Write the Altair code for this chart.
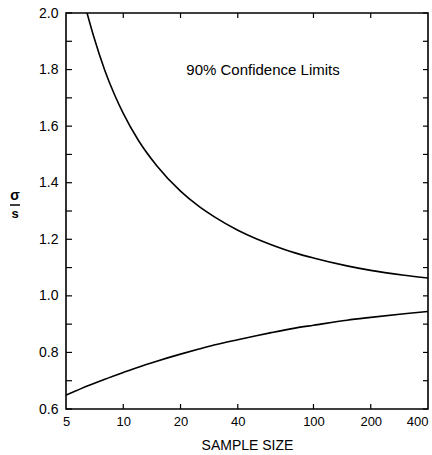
import altair as alt
import pandas as pd

# Values
upper_n = [6.45, 7, 8, 9, 10, 12, 15, 20, 25, 30, 40, 50, 60, 80, 100, 150, 200, 300, 400]
upper_v = [2.0, 1.916, 1.797, 1.711, 1.645, 1.550, 1.460, 1.370, 1.316, 1.280, 1.232, 1.202,
           1.181, 1.152, 1.134, 1.106, 1.090, 1.073, 1.063]
lower_n = [5, 6, 7, 8, 10, 12, 15, 20, 25, 30, 40, 50, 60, 80, 100, 150, 200, 300, 400]
lower_v = [0.649, 0.672, 0.690, 0.705, 0.729, 0.748, 0.769, 0.794, 0.812, 0.826, 0.845, 0.859,
           0.870, 0.886, 0.896, 0.914, 0.924, 0.937, 0.945]
x_ticks = [5, 10, 20, 40, 100, 200, 400]
x_inner_ticks = [10, 20, 40, 100, 200]
y_ticks = [0.6, 0.8, 1.0, 1.2, 1.4, 1.6, 1.8, 2.0]
y_minor = [0.6, 0.7, 0.8, 0.9, 1.0, 1.1, 1.2, 1.3, 1.4, 1.5, 1.6, 1.7, 1.8, 1.9, 2.0]
title_text = "90% Confidence Limits"

W, H = 362, 396
FONT = "Liberation Sans"

curves = pd.DataFrame(
    [{"n": a, "v": b, "s": "upper"} for a, b in zip(upper_n, upper_v)]
    + [{"n": a, "v": b, "s": "lower"} for a, b in zip(lower_n, lower_v)]
)

xs = alt.Scale(type="log", domain=[5, 400], nice=False)
ys = alt.Scale(domain=[0.6, 2.0], nice=False, zero=False)

x_axis = alt.Axis(values=x_ticks, tickSize=0, domain=False, grid=False, labelPadding=6,
                  labelFontSize=13, labelFont=FONT, labelColor="black", format="d",
                  labelAlign=alt.ExprRef(expr="datum.value >= 400 ? 'right' : 'center'"),
                  title="SAMPLE SIZE", titleFont=FONT, titleFontSize=14, titleFontWeight="normal",
                  titleColor="black", titlePadding=10, labelFlush=False)
y_axis = alt.Axis(values=y_ticks, tickSize=0, domain=False, grid=False, labelPadding=8,
                  format=".1f", labelFontSize=14, labelFont=FONT, labelColor="black", title=None)

lines = alt.Chart(curves).mark_line(color="black", strokeWidth=1.6, interpolate="monotone", clip=True).encode(
    x=alt.X("n:Q", scale=xs, axis=x_axis),
    y=alt.Y("v:Q", scale=ys, axis=y_axis),
    detail="s:N",
)

ymin_df = pd.DataFrame({"y": y_minor})
xin_df = pd.DataFrame({"x": x_inner_ticks})

left_ticks = alt.Chart(ymin_df).mark_rule(color="black", strokeWidth=1.2).encode(
    y=alt.Y("y:Q", scale=ys, axis=y_axis), x=alt.value(0), x2=alt.value(6))
right_ticks = alt.Chart(ymin_df).mark_rule(color="black", strokeWidth=1.2).encode(
    y=alt.Y("y:Q", scale=ys, axis=y_axis), x=alt.value(W - 5), x2=alt.value(W))
top_ticks = alt.Chart(xin_df).mark_rule(color="black", strokeWidth=1.2).encode(
    x=alt.X("x:Q", scale=xs, axis=x_axis), y=alt.value(0), y2=alt.value(5))
bottom_ticks = alt.Chart(xin_df).mark_rule(color="black", strokeWidth=1.2).encode(
    x=alt.X("x:Q", scale=xs, axis=x_axis), y=alt.value(H - 5), y2=alt.value(H))

title = alt.Chart(pd.DataFrame({"t": [title_text]})).mark_text(
    font=FONT, fontSize=15, color="black", align="center", baseline="middle").encode(
    text="t:N", x=alt.value(197), y=alt.value(57))

sig = alt.Chart(pd.DataFrame({"t": ["σ"]})).mark_text(
    font=FONT, fontSize=14, fontWeight="bold", color="black", align="center", baseline="middle").encode(
    text="t:N", x=alt.value(-51), y=alt.value(183))
ess = alt.Chart(pd.DataFrame({"t": ["s"]})).mark_text(
    font=FONT, fontSize=13, fontWeight="bold", color="black", align="center", baseline="middle").encode(
    text="t:N", x=alt.value(-51), y=alt.value(201))
frac = alt.Chart(pd.DataFrame({"t": [1]})).mark_rule(color="black", strokeWidth=1.5).encode(
    x=alt.value(-56), x2=alt.value(-46), y=alt.value(192))

chart = alt.layer(lines, left_ticks, right_ticks, top_ticks, bottom_ticks, title, sig, ess, frac).properties(
    width=W, height=H,
    autosize=alt.AutoSizeParams(type="none"),
    padding={"left": 66, "top": 13, "right": 4, "bottom": 46},
    background="white",
).configure_view(stroke="black", strokeWidth=1.6)

chart.save("out.html", embed_options={"renderer": "svg", "actions": False})
